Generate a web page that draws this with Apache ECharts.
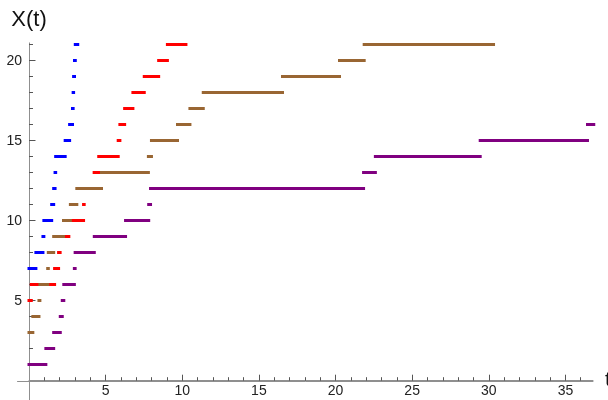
<!DOCTYPE html>
<html><head><meta charset="utf-8">
<script src="https://cdn.jsdelivr.net/npm/echarts@6/dist/echarts.min.js"></script>
<style>html,body{margin:0;padding:0;background:#fff}#c{width:608px;height:400px}</style>
</head><body><div id="c"></div>
<script>
// tick labels
const xTickLabels = [5, 10, 15, 20, 25, 30, 35];
const yTickLabels = [5, 10, 15, 20];
const xMinorMax = 36;
const yMinorMax = 21;

// each process: starting level and jump times (first = 0, last = end of last step)
const blueStart = 7;
const blueTimes = [0, 0.45, 0.91, 0.97, 1.48, 1.61, 1.70, 1.74, 2.36, 2.65, 2.84, 2.88, 2.91, 2.97, 3.02, 3.18];
const redStart = 5;
const redTimes = [0, 0.15, 1.67, 1.93, 2.03, 2.60, 3.56, 3.60, 4.25, 4.55, 5.82, 5.93, 6.24, 6.78, 7.52, 8.46, 9.03, 10.24];
const brownStart = 3;
const brownTimes = [0, 0.25, 0.65, 0.71, 1.22, 1.26, 1.61, 2.25, 2.70, 3.12, 4.73, 7.79, 7.99, 9.69, 10.50, 11.37, 16.54, 20.26, 21.87, 30.31];
const purpleStart = 1;
const purpleTimes = [0, 1.10, 1.61, 2.04, 2.17, 2.27, 2.96, 3.01, 4.26, 6.30, 7.81, 7.93, 21.83, 22.60, 29.44, 36.44, 36.85];

const X_MAX = 36.8, Y_MAX = 21.1;
const PX_PER_X = 15.33, PX_PER_Y = 16;

function segs(start, times) {
  const out = [];
  for (let i = 0; i < times.length - 1; i++) {
    out.push({ coords: [[times[i], start + i], [times[i + 1], start + i]] });
  }
  return out;
}
function ser(start, times, color) {
  return {
    type: 'lines', coordinateSystem: 'cartesian2d', xAxisIndex: 0, yAxisIndex: 0,
    polyline: false, clip: false, silent: true, animation: false, z: 5,
    lineStyle: { color: color, width: 3, opacity: 1, cap: 'square' },
    data: segs(start, times)
  };
}
// inward axis ticks, placed through the same axes
function tickData() {
  const out = [];
  for (let v = 1; v <= xMinorMax; v++) {
    const len = (xTickLabels.indexOf(v) >= 0 ? 6 : 3.5) / PX_PER_Y;
    out.push({ coords: [[v, 0], [v, len]] });
  }
  for (let v = 1; v <= yMinorMax; v++) {
    const len = (yTickLabels.indexOf(v) >= 0 ? 6.5 : 4) / PX_PER_X;
    out.push({ coords: [[0, v], [len, v]] });
  }
  return out;
}
const axisColor = '#8f8f8f';
const tickColor = '#555555';
const font = 'Liberation Sans, Arial, sans-serif';
const hidden = { show: false };
const gBase = { containLabel: false, outerBoundsMode: 'none' };

const chart = echarts.init(document.getElementById('c'), null, { renderer: 'canvas' });
chart.setOption({
  animation: false,
  backgroundColor: '#ffffff',
  grid: [
    Object.assign({ left: 29, right: 15, top: 43.1, bottom: 19.3 }, gBase),   // main
    Object.assign({ left: 17.5, right: 15, top: 43.1, bottom: 0 }, gBase)     // axis lines through origin
  ],
  xAxis: [
    {
      gridIndex: 0, type: 'value', min: 0, max: X_MAX, interval: 5,
      name: 't', nameLocation: 'end', nameGap: 12,
      nameTextStyle: { fontFamily: font, fontSize: 21, color: '#111' },
      axisLine: { show: true, onZero: false, lineStyle: { color: axisColor, width: 1 } },
      axisTick: hidden,
      axisLabel: { show: true, fontFamily: font, fontSize: 14, color: '#222', margin: 3,
        formatter: function (v) { return xTickLabels.indexOf(v) >= 0 ? String(v) : ''; } },
      splitLine: hidden, minorSplitLine: hidden
    },
    {
      gridIndex: 1, type: 'value', min: -0.75, max: X_MAX,
      axisLine: { onZero: true, lineStyle: { color: axisColor, width: 1 } },
      axisTick: hidden, axisLabel: hidden, splitLine: hidden
    }
  ],
  yAxis: [
    {
      gridIndex: 0, type: 'value', min: 0, max: Y_MAX, interval: 5,
      name: 'X(t)', nameLocation: 'end', nameGap: 12,
      nameTextStyle: { fontFamily: font, fontSize: 22, color: '#111' },
      axisLine: { show: true, onZero: false, lineStyle: { color: axisColor, width: 1 } },
      axisTick: hidden,
      axisLabel: { show: true, fontFamily: font, fontSize: 14, color: '#222', margin: 7,
        formatter: function (v) { return yTickLabels.indexOf(v) >= 0 ? String(v) : ''; } },
      splitLine: hidden, minorSplitLine: hidden
    },
    {
      gridIndex: 1, type: 'value', min: -1.2, max: Y_MAX,
      axisLine: { onZero: true, lineStyle: { color: axisColor, width: 1 } },
      axisTick: hidden, axisLabel: hidden, splitLine: hidden
    }
  ],
  series: [
    {
      type: 'lines', coordinateSystem: 'cartesian2d', xAxisIndex: 0, yAxisIndex: 0,
      polyline: false, clip: false, silent: true, animation: false, z: 3,
      lineStyle: { color: tickColor, width: 1, opacity: 1, cap: 'butt' },
      data: tickData()
    },
    ser(blueStart, blueTimes, '#0000ff'),
    ser(redStart, redTimes, '#ff0000'),
    ser(brownStart, brownTimes, '#996633'),
    ser(purpleStart, purpleTimes, '#800080')
  ]
});
</script></body></html>
